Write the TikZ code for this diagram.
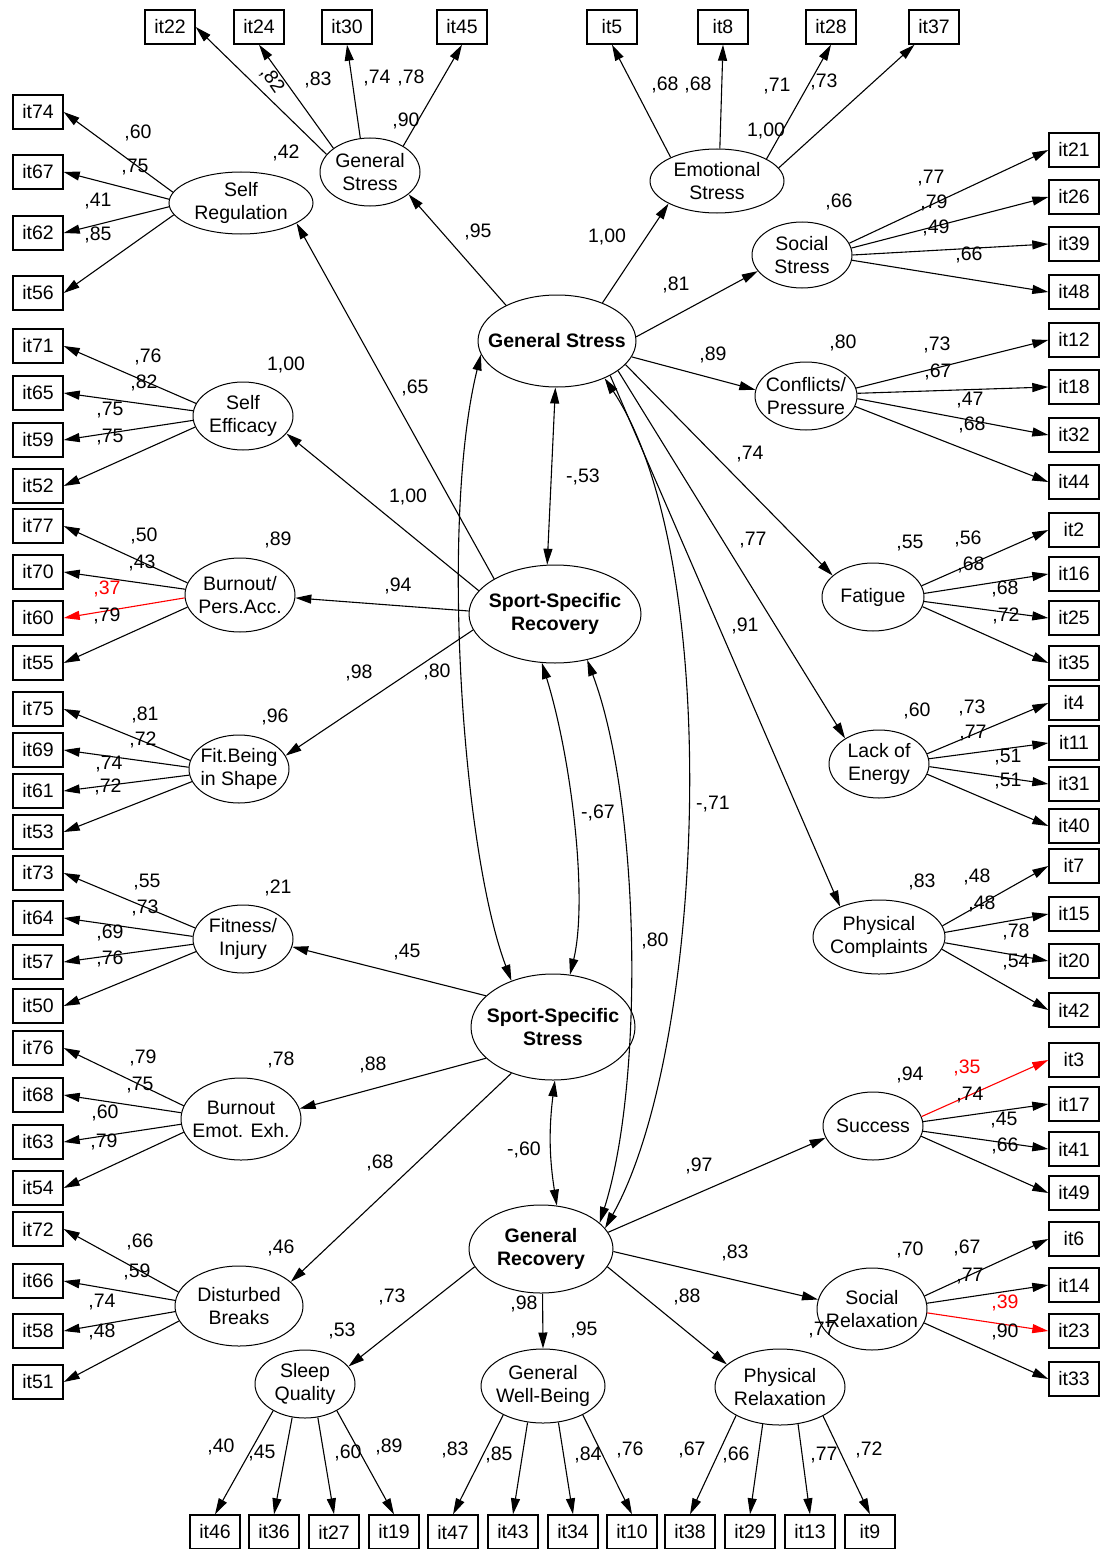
\documentclass[tikz,border=0pt]{standalone}
\usepackage{fontspec}
\setmainfont{Liberation Sans}
\usetikzlibrary{shapes.geometric,arrows.meta}

\tikzset{
  item/.style={draw, rectangle, line width=1.4pt, minimum width=50pt, minimum height=34pt, inner sep=0pt},
  lat/.style 2 args={draw, ellipse, line width=1pt, minimum width=#1pt, minimum height=#2pt, inner sep=-14pt, align=center},
  core/.style={font=\fontsize{19.5}{23}\selectfont\bfseries},
  arr/.style={line width=1.1pt, -{Triangle[length=16pt,width=9pt]}},
  corr/.style={line width=1.1pt, {Triangle[length=16pt,width=9pt]}-{Triangle[length=16pt,width=9pt]}},
  lbl/.style={inner sep=0pt}
}

\begin{document}
\begin{tikzpicture}[x=1pt, y=-1pt, font=\fontsize{19.5}{23}\selectfont]
\useasboundingbox (0,0) rectangle (1100,1549);

\node[lat={158}{92}, core] (gsm) at (557,341) {General Stress};
\node[lat={172}{98}, core] (ssr) at (555,614) {Sport-Specific\\Recovery};
\node[lat={164}{106}, core] (sss) at (553,1027) {Sport-Specific\\Stress};
\node[lat={144}{88}, core] (gr) at (541,1249) {General\\Recovery};

\node[lat={100}{68}] (gs1) at (370,172) {General\\Stress};
\node[lat={144}{62}] (sreg) at (241,203) {Self\\Regulation};
\node[lat={134}{64}] (emo) at (717,181) {Emotional\\Stress};
\node[lat={100}{66}] (soc) at (802,255) {Social\\Stress};
\node[lat={102}{68}] (con) at (806,396) {Conflicts/\\Pressure};
\node[lat={100}{68}] (seff) at (243,416) {Self\\Efficacy};
\node[lat={110}{74}] (bpa) at (240,595) {Burnout/\\Pers.Acc.};
\node[lat={102}{68}] (fat) at (873,597) {Fatigue};
\node[lat={100}{68}] (fb) at (239,769) {Fit.Being\\in Shape};
\node[lat={100}{68}] (loe) at (879,764) {Lack of\\Energy};
\node[lat={132}{74}] (pc) at (879,937) {Physical\\Complaints};
\node[lat={100}{68}] (fi) at (243,939) {Fitness/\\Injury};
\node[lat={120}{82}] (bee) at (241,1119) {Burnout\\Emot. Exh.};
\node[lat={100}{68}] (suc) at (873,1126) {Success};
\node[lat={128}{80}] (db) at (239,1306) {Disturbed\\Breaks};
\node[lat={110}{82}] (sr) at (872,1309) {Social\\Relaxation};
\node[lat={100}{68}] (sq) at (305,1384) {Sleep\\Quality};
\node[lat={124}{74}] (gwb) at (543,1386) {General\\Well-Being};
\node[lat={130}{76}] (pr) at (780,1387) {Physical\\Relaxation};

\foreach \n/\y in {74/112,67/172,62/233,56/293,71/346,65/393,59/440,52/486,77/526,70/572,60/618,55/663,75/709,69/750,61/791,53/832,73/873,64/918,57/962,50/1006,76/1048,68/1095,63/1142,54/1188,72/1229,66/1281,58/1331,51/1382}
  \node[item] (it\n) at (38,\y) {it\n};
\foreach \n/\y in {21/150,26/197,39/244,48/292,12/340,18/387,32/435,44/482,2/530,16/574,25/618,35/663,4/703,11/743,31/784,40/826,7/866,15/914,20/961,42/1010,3/1060,17/1104,41/1149,49/1193,6/1239,14/1285,23/1331,33/1379}
  \node[item] (it\n) at (1074,\y) {it\n};
\foreach \n/\x in {22/170,24/259,30/347,45/462,5/612,8/723,28/831,37/934}
  \node[item] (it\n) at (\x,27) {it\n};
\foreach \n/\x in {46/215,36/274,27/334,19/394,47/453,43/513,34/573,10/632,38/690,29/750,13/810,9/870}
  \node[item] (it\n) at (\x,1532) {it\n};

\draw[arr] (gs1.158) -- (it22.east);
\foreach \b/\a in {24/147,30/106,45/38} \draw[arr] (gs1.\a) -- (it\b.south);
\foreach \b/\a in {5/153,8/85,28/24} \draw[arr] (emo.\a) -- (it\b.south);
\draw[arr] (emo.12) -- (it37);
\foreach \b/\a in {21/14,26/8,39/0,48/-6} \draw[arr] (soc.\a) -- (it\b.west);
\foreach \b/\a in {12/9,18/3,32/-3,44/-12} \draw[arr] (con.\a) -- (it\b.west);
\foreach \b/\a in {2/13,16/4,25/-5,35/-11} \draw[arr] (fat.\a) -- (it\b.west);
\foreach \b/\a in {4/12,11/6,31/-3,40/-12} \draw[arr] (loe.\a) -- (it\b.west);
\foreach \b/\a in {7/10,15/4,20/-5,42/-11} \draw[arr] (pc.\a) -- (it\b.west);
\foreach \b/\a/\c in {3/11/red,17/5/black,41/-6/black,49/-12/black} \draw[arr,\c] (suc.\a) -- (it\b.west);
\foreach \b/\a/\c in {6/14/black,14/6/black,23/-4/red,33/-15/black} \draw[arr,\c] (sr.\a) -- (it\b.west);
\foreach \b/\a in {74/171,67/177,62/183,56/190} \draw[arr] (sreg.\a) -- (it\b.east);
\foreach \b/\a in {71/165,65/174,59/185,52/193} \draw[arr] (seff.\a) -- (it\b.east);
\foreach \b/\a/\c in {77/167/black,70/174/black,60/183/red,55/193/black} \draw[arr,\c] (bpa.\a) -- (it\b.east);
\foreach \b/\a in {75/170,69/178,61/187,53/195} \draw[arr] (fb.\a) -- (it\b.east);
\foreach \b/\a in {73/167,64/177,57/186,50/195} \draw[arr] (fi.\a) -- (it\b.east);
\foreach \b/\a in {76/167,68/174,63/185,54/193} \draw[arr] (bee.\a) -- (it\b.east);
\foreach \b/\a in {72/167,66/175,58/185,51/194} \draw[arr] (db.\a) -- (it\b.east);
\foreach \b/\a in {46/220,36/249,27/291,19/320} \draw[arr] (sq.\a) -- (it\b.north);
\foreach \b/\a in {47/216,43/247,34/293,10/324} \draw[arr] (gwb.\a) -- (it\b.north);
\foreach \b/\a in {38/213,29/245,13/296,9/326} \draw[arr] (pr.\a) -- (it\b.north);

\draw[arr] (gsm.145) -- (gs1.-30);
\draw[arr] (gsm.40) -- (emo.205);
\draw[arr] (gsm.3) -- (soc.200);
\draw[arr] (gsm.-12) -- (con.173);
\draw[arr] (gsm.-19) -- (fat.152);
\draw[arr] (gsm.-26) -- (loe.143);
\draw[arr] (gsm.-33) -- (pc.142);
\draw[arr] (ssr.150) -- (sreg.-20);
\draw[arr] (ssr.163) -- (seff.-22);
\draw[arr] (ssr.178) -- (bpa.-3);
\draw[arr] (ssr.191) -- (fb.16);
\draw[arr] (sss.155) -- (fi.-9);
\draw[arr] (sss.205) -- (bee.10);
\draw[arr] (sss.228) -- (db.25);
\draw[arr] (gr.14) -- (suc.194);
\draw[arr] (gr.-2) -- (sr.170);
\draw[arr] (gr.-15) -- (pr.157);
\draw[arr] (gr.-88) -- (gwb.90);
\draw[arr] (gr.195) -- (sq.22);

\draw[corr] (gsm.268) -- (ssr.99);
\draw[corr] (gsm.190) .. controls (440,520) and (462,850) .. (sss.132);
\draw[corr] (gsm.-38) .. controls (725,560) and (705,1050) .. (gr.18);
\draw[corr] (ssr.-105) .. controls (572,760) and (588,900) .. (sss.72);
\draw[corr] (ssr.-55) .. controls (640,800) and (645,1080) .. (gr.24);
\draw[corr] (sss.-88) to[bend right=8] (gr.70);

\node[lbl, rotate=-55] (w0) at (272,80) {,82};
\foreach \x/\y/\t [count=\i] in {318/80/{,83}, 377/78/{,74}, 411/78/{,78}, 406/121/{,90}, 286/153/{,42}, 478/232/{,95},
  138/133/{,60}, 135/167/{,75}, 98/201/{,41}, 98/235/{,85},
  665/85/{,68}, 698/85/{,68}, 777/86/{,71}, 824/82/{,73}, 766/131/{1,00}, 607/237/{1,00}, 676/285/{,81},
  839/202/{,66}, 931/178/{,77}, 934/203/{,79}, 936/228/{,49}, 969/255/{,66},
  148/357/{,76}, 144/383/{,82}, 110/410/{,75}, 110/437/{,75}, 286/365/{1,00}, 415/388/{,65}, 408/497/{1,00},
  144/536/{,50}, 142/563/{,43}, 278/540/{,89}, 107/616/{,79}, 398/586/{,94}, 359/673/{,98}, 437/672/{,80},
  713/355/{,89}, 843/343/{,80}, 937/345/{,73}, 938/372/{,67}, 970/400/{,47}, 972/425/{,68},
  750/454/{,74}, 753/540/{,77}, 910/543/{,55}, 968/539/{,56}, 971/565/{,68}, 1005/589/{,68}, 1006/616/{,72},
  745/626/{,91}, 583/477/{-,53},
  145/715/{,81}, 143/740/{,72}, 275/717/{,96}, 109/764/{,74}, 108/787/{,72},
  147/882/{,55}, 145/908/{,73}, 278/888/{,21}, 110/933/{,69}, 110/959/{,76}, 407/952/{,45},
  917/711/{,60}, 972/708/{,73}, 973/733/{,77}, 1008/757/{,51}, 1008/781/{,51}, 713/804/{-,71},
  922/882/{,83}, 977/877/{,48}, 982/904/{,48}, 1016/932/{,78}, 1016/962/{,54}, 655/941/{,80},
  598/813/{-,67}, 524/1150/{-,60},
  143/1058/{,79}, 140/1085/{,75}, 281/1060/{,78}, 373/1065/{,88}, 105/1113/{,60}, 104/1142/{,79}, 380/1163/{,68},
  140/1242/{,66}, 281/1248/{,46}, 137/1272/{,59}, 102/1302/{,74}, 392/1297/{,73}, 102/1332/{,48}, 342/1331/{,53},
  910/1075/{,94}, 970/1095/{,74}, 1004/1120/{,45}, 1005/1146/{,66}, 699/1166/{,97},
  910/1250/{,70}, 967/1248/{,67}, 970/1276/{,77}, 735/1253/{,83}, 687/1297/{,88}, 822/1330/{,77}, 1005/1332/{,90},
  524/1304/{,98}, 584/1330/{,95},
  221/1447/{,40}, 262/1453/{,45}, 348/1453/{,60}, 389/1447/{,89}, 455/1450/{,83}, 499/1455/{,85},
  588/1455/{,84}, 630/1450/{,76}, 692/1450/{,67}, 736/1455/{,66}, 824/1455/{,77}, 869/1450/{,72}}
  \node[lbl] (w\i) at (\x,\y) {\t};
\foreach \x/\y/\t [count=\i] in {107/589/{,37}, 967/1068/{,35}, 1005/1303/{,39}}
  \node[lbl, red] (r\i) at (\x,\y) {\t};
\end{tikzpicture}
\end{document}
